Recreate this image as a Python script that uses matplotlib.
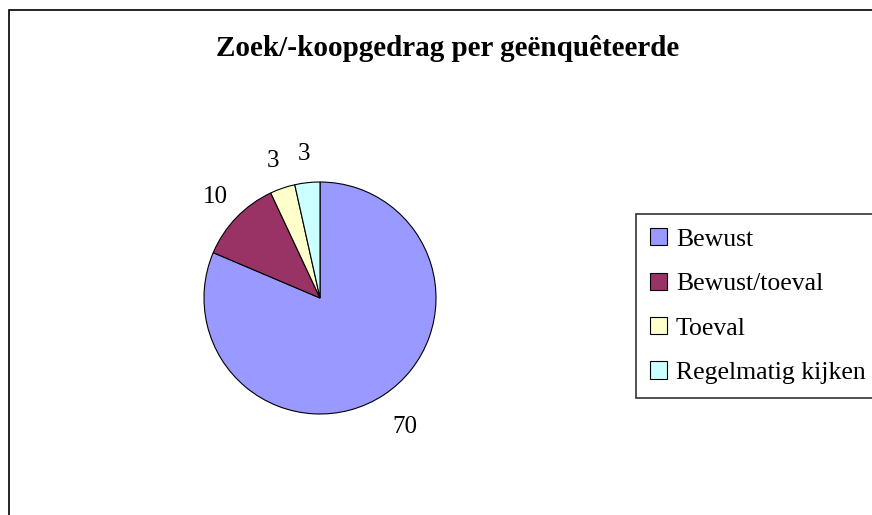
import matplotlib
matplotlib.use("Agg")
import matplotlib.pyplot as plt
from matplotlib.patches import Rectangle

# gegevens
categorieen = ["Bewust", "Bewust/toeval", "Toeval", "Regelmatig kijken"]
aantallen = [70, 10, 3, 3]
kleuren = ["#9999FF", "#993366", "#FFFFCC", "#CCFFFF"]
titel = "Zoek/-koopgedrag per geënquêteerde"

plt.rcParams["font.family"] = ["Liberation Serif", "DejaVu Serif"]

W, H = 872, 515
fig = plt.figure(figsize=(W / 100, H / 100), dpi=100)

# kader rond de grafiek
fig.patches.append(Rectangle((9 / W, -0.05), 1.0, 1 - 10 / H + 0.05,
                             transform=fig.transFigure, fill=False,
                             edgecolor="black", linewidth=1.2))

# taart: middelpunt (320, 298) px, straal 116 px
cx, cy, r = 320, H - 298, 116
ax = fig.add_axes([(cx - r) / W, (cy - r) / H, 2 * r / W, 2 * r / H])
totaal = sum(aantallen)
wedges, _, teksten = ax.pie(aantallen, colors=kleuren, startangle=90,
                            counterclock=False, radius=1,
                            autopct=lambda p: f"{p * totaal / 100:.0f}",
                            pctdistance=1.25,
                            wedgeprops=dict(edgecolor="black", linewidth=0.8),
                            textprops=dict(fontsize=18))
# het grote label staat iets verder naar buiten
x0, y0 = teksten[0].get_position()
teksten[0].set_position((x0 * 1.33 / 1.25, y0 * 1.33 / 1.25))
ax.set_xlim(-1, 1)
ax.set_ylim(-1, 1)

fig.text(448 / W, 1 - 49 / H, titel, ha="center", va="center",
         fontsize=21, fontweight="bold")

leg = fig.legend(wedges, categorieen, loc="upper left",
                 bbox_to_anchor=(636 / W, 1 - 214 / H),
                 fontsize=18.5, frameon=True, fancybox=False,
                 handlelength=0.65, handleheight=0.65, handletextpad=0.35,
                 labelspacing=0.85, borderpad=0.55, borderaxespad=0)
leg.get_frame().set_edgecolor("black")
leg.get_frame().set_linewidth(1.2)

fig.savefig("out.png", dpi=100)
